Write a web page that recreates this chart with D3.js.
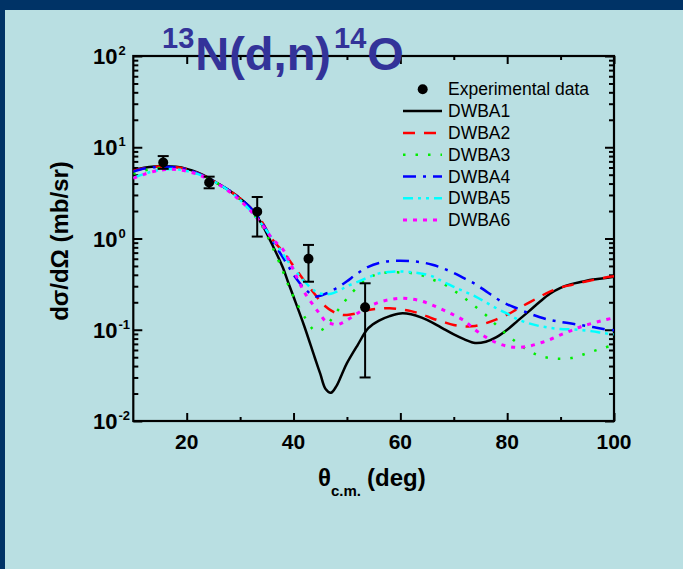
<!DOCTYPE html>
<html>
<head>
<meta charset="utf-8">
<script src="https://cdn.jsdelivr.net/npm/d3@7"></script>
<style>
  html, body { margin: 0; padding: 0; background: #003366; }
  svg { display: block; font-family: "Liberation Sans", Arial, sans-serif; }
</style>
</head>
<body>
<svg id="chart" width="683" height="569"></svg>
<script>
// Centre-of-mass angles (deg) on which the DWBA curves are tabulated
const angles = [10,12,14,16,18,20,22,24,26,28,30,32,34,36,38,39,40,42,44,45,46,47,48,49,50,
  52,54,56,58,60,62,64,66,68,70,72,74,76,78,80,82,84,86,88,90,92,94,96,98,100];

// Differential cross sections (mb/sr) for each DWBA calculation
const dwba1 = [5.6,5.95,6.15,6.2,6.1,5.8,5.3,4.65,3.95,3.35,2.75,2.15,1.46,0.86,0.48,0.33,0.23,0.11,0.049,0.033,0.0224,0.0204,0.024,0.032,0.043,
  0.068,0.104,0.126,0.141,0.151,0.148,0.136,0.12,0.103,0.089,0.0785,0.0716,0.074,0.083,0.1,0.126,0.158,0.2,0.248,0.288,0.316,0.335,0.355,0.367,0.38];
const dwba2 = [5.5,5.9,6.1,6.15,6.05,5.75,5.25,4.6,3.95,3.35,2.75,2.15,1.55,0.98,0.72,0.6,0.5,0.345,0.245,0.205,0.18,0.163,0.152,0.146,0.145,
  0.152,0.165,0.17,0.172,0.168,0.16,0.148,0.133,0.122,0.113,0.109,0.11,0.118,0.13,0.146,0.17,0.197,0.228,0.262,0.29,0.31,0.33,0.35,0.37,0.385];
const dwba3 = [5.1,5.55,5.85,5.95,5.9,5.6,5.15,4.6,3.95,3.3,2.65,2.0,1.4,0.82,0.44,0.31,0.23,0.14,0.097,0.098,0.107,0.128,0.155,0.185,0.22,
  0.295,0.37,0.41,0.425,0.425,0.418,0.395,0.355,0.32,0.27,0.222,0.18,0.145,0.112,0.088,0.071,0.059,0.052,0.049,0.048,0.049,0.053,0.058,0.063,0.068];
const dwba4 = [5.4,5.85,6.05,6.1,6.0,5.7,5.2,4.6,3.95,3.35,2.75,2.15,1.52,0.96,0.62,0.5,0.4,0.285,0.232,0.236,0.248,0.262,0.285,0.31,0.34,
  0.415,0.49,0.54,0.565,0.572,0.565,0.548,0.515,0.47,0.42,0.365,0.318,0.265,0.22,0.19,0.17,0.152,0.138,0.128,0.122,0.117,0.112,0.107,0.102,0.099];
const dwba5 = [4.6,5.1,5.5,5.75,5.75,5.5,5.1,4.55,3.95,3.3,2.65,2.0,1.45,1.0,0.68,0.56,0.47,0.34,0.265,0.25,0.245,0.248,0.26,0.278,0.3,
  0.335,0.375,0.415,0.43,0.435,0.428,0.412,0.385,0.335,0.295,0.262,0.232,0.2,0.172,0.15,0.13,0.118,0.11,0.105,0.102,0.101,0.099,0.096,0.092,0.089];
const dwba6 = [4.55,5.05,5.45,5.7,5.7,5.45,5.05,4.5,3.9,3.25,2.6,2.0,1.45,1.0,0.76,0.6,0.45,0.26,0.176,0.147,0.124,0.117,0.113,0.118,0.127,
  0.152,0.178,0.2,0.214,0.221,0.217,0.206,0.186,0.165,0.145,0.125,0.1,0.083,0.072,0.066,0.064,0.066,0.071,0.078,0.088,0.098,0.109,0.118,0.127,0.135];

// Measured points with error bars
const expAngle = [15.6, 24.2, 33.2, 42.8, 53.4];
const expValue = [6.8, 4.1, 1.97, 0.6, 0.176];
const expLow   = [5.8, 3.55, 1.05, 0.336, 0.030];
const expHigh  = [8.0, 4.76, 2.85, 0.85, 0.323];

// Axis ticks
const xMajorTicks = [20, 40, 60, 80, 100];
const xMinorTicks = [30, 50, 70, 90];
const yDecades = [-2, -1, 0, 1, 2];
const seriesNames = ["DWBA1", "DWBA2", "DWBA3", "DWBA4", "DWBA5", "DWBA6"];

const styles = [
  { color: "#000000", dash: null, width: 2.5 },
  { color: "#ff0000", dash: "12,9", width: 2.5 },
  { color: "#00ee00", dash: "2.5,10", width: 2.5 },
  { color: "#0000ff", dash: "13,7,3,7", width: 2.5 },
  { color: "#00ffff", dash: "10,5,3,5,3,5", width: 2.5 },
  { color: "#ff00ff", dash: "4,6", width: 3 }
];
const seriesValues = [dwba1, dwba2, dwba3, dwba4, dwba5, dwba6];

const svg = d3.select("#chart");
const W = 683, H = 569;

// panel background
svg.append("rect").attr("width", W).attr("height", H).attr("fill", "#003366");
svg.append("rect").attr("x", 5).attr("y", 10).attr("width", W - 5).attr("height", H - 10).attr("fill", "#b9dfe2");

const plot = { left: 133.3, right: 614, top: 56, bottom: 421 };
const x = d3.scaleLinear().domain([10, 100]).range([plot.left, plot.right]);
const y = d3.scaleLog().domain([1e-2, 1e2]).range([plot.bottom, plot.top]);

const minorY = [];
yDecades.slice(0, -1).forEach(e => { for (let m = 2; m <= 9; m++) minorY.push(m * Math.pow(10, e)); });
const majorY = yDecades.map(e => Math.pow(10, e));

function tickAxis(axisFn, scale, vals, size, transform) {
  const g = svg.append("g").attr("transform", transform)
    .call(axisFn(scale).tickValues(vals).tickSize(-size).tickSizeOuter(0).tickFormat(""));
  g.select(".domain").remove();
  g.selectAll("line").attr("stroke", "#000").attr("stroke-width", 2);
  return g;
}
// inward ticks on all four sides
tickAxis(d3.axisBottom, x, xMajorTicks, 8, `translate(0,${plot.bottom})`);
tickAxis(d3.axisBottom, x, xMinorTicks, 4, `translate(0,${plot.bottom})`);
tickAxis(d3.axisTop, x, xMajorTicks, 8, `translate(0,${plot.top})`);
tickAxis(d3.axisTop, x, xMinorTicks, 4, `translate(0,${plot.top})`);
tickAxis(d3.axisLeft, y, majorY, 9, `translate(${plot.left},0)`);
tickAxis(d3.axisLeft, y, minorY, 5, `translate(${plot.left},0)`);
tickAxis(d3.axisRight, y, majorY, 9, `translate(${plot.right},0)`);
tickAxis(d3.axisRight, y, minorY, 5, `translate(${plot.right},0)`);

// frame
svg.append("rect").attr("x", plot.left).attr("y", plot.top)
  .attr("width", plot.right - plot.left).attr("height", plot.bottom - plot.top)
  .attr("fill", "none").attr("stroke", "#000").attr("stroke-width", 2.2);

// x tick labels
svg.append("g").selectAll("text").data(xMajorTicks).join("text")
  .attr("x", d => x(d)).attr("y", plot.bottom + 28)
  .attr("text-anchor", "middle").attr("font-size", 21).attr("font-weight", "bold")
  .text(d => d);

// y tick labels: 10 with superscript exponent
const yl = svg.append("g").selectAll("text").data(yDecades).join("text")
  .attr("x", 93).attr("y", d => y(Math.pow(10, d)) + 8)
  .attr("font-size", 22).attr("font-weight", "bold");
yl.append("tspan").text("10");
yl.append("tspan").attr("font-size", 13).attr("dy", -9).attr("dx", 1).text(d => d);

// clipping for curves
svg.append("clipPath").attr("id", "clip").append("rect")
  .attr("x", plot.left).attr("y", plot.top)
  .attr("width", plot.right - plot.left).attr("height", plot.bottom - plot.top);

const line = d3.line().x(d => x(d[0])).y(d => y(d[1])).curve(d3.curveCatmullRom.alpha(0.5));
const curves = svg.append("g").attr("clip-path", "url(#clip)");
seriesValues.forEach((vals, i) => {
  const pts = angles.map((a, k) => [a, vals[k]]);
  curves.append("path").datum(pts).attr("d", line)
    .attr("fill", "none").attr("stroke", styles[i].color)
    .attr("stroke-width", styles[i].width)
    .attr("stroke-dasharray", styles[i].dash);
});

// experimental data with error bars
const exp = svg.append("g");
expAngle.forEach((a, i) => {
  const cx = x(a);
  exp.append("line").attr("x1", cx).attr("x2", cx).attr("y1", y(expLow[i])).attr("y2", y(expHigh[i]))
    .attr("stroke", "#000").attr("stroke-width", 2);
  [expLow[i], expHigh[i]].forEach(v => {
    exp.append("line").attr("x1", cx - 5.5).attr("x2", cx + 5.5).attr("y1", y(v)).attr("y2", y(v))
      .attr("stroke", "#000").attr("stroke-width", 2);
  });
  exp.append("circle").attr("cx", cx).attr("cy", y(expValue[i])).attr("r", 5).attr("fill", "#000");
});

// legend
const leg = svg.append("g");
const legX0 = 403, legX1 = 442, legText = 448, legY0 = 89.3, legDy = 21.8;
leg.append("circle").attr("cx", 422.7).attr("cy", legY0).attr("r", 5).attr("fill", "#000");
leg.append("text").attr("x", legText).attr("y", legY0 + 6).attr("font-size", 17.5).text("Experimental data");
seriesNames.forEach((name, i) => {
  const yy = legY0 + legDy * (i + 1);
  leg.append("line").attr("x1", legX0).attr("x2", legX1).attr("y1", yy).attr("y2", yy)
    .attr("stroke", styles[i].color).attr("stroke-width", styles[i].width)
    .attr("stroke-dasharray", styles[i].dash);
  leg.append("text").attr("x", legText).attr("y", yy + 6).attr("font-size", 17.5).text(name);
});

// axis titles
svg.append("text").attr("transform", "translate(68,241) rotate(-90)")
  .attr("text-anchor", "middle").attr("font-size", 24).attr("font-weight", "bold")
  .text("dσ/dΩ (mb/sr)");

const xt = svg.append("text").attr("x", 318).attr("y", 486)
  .attr("font-size", 24).attr("font-weight", "bold");
xt.append("tspan").text("θ");
xt.append("tspan").attr("font-size", 15).attr("dy", 10).text("c.m.");
xt.append("tspan").attr("x", 367).attr("dy", -10).text("(deg)");

// reaction title
const title = svg.append("text").attr("x", 162).attr("y", 70)
  .attr("font-size", 47).attr("font-weight", "bold").attr("fill", "#333399");
title.append("tspan").attr("font-size", 29).attr("dy", -22).text("13");
title.append("tspan").attr("dy", 22).attr("dx", 1).text("N(d,n)");
title.append("tspan").attr("font-size", 29).attr("dy", -22).attr("dx", 3).text("14");
title.append("tspan").attr("dy", 22).attr("dx", 1).text("O");
</script>
</body>
</html>
